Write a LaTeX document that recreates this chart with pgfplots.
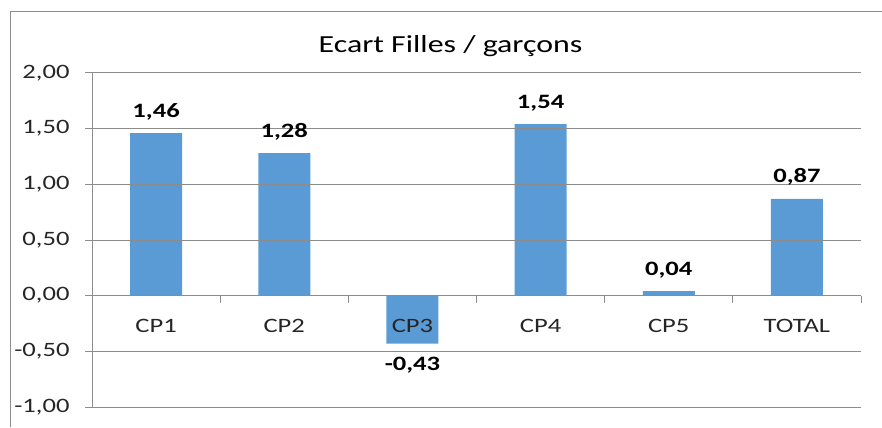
\documentclass[border=0pt]{standalone}
\usepackage{fontspec}
\setmainfont{Carlito}[FakeStretch=1.3]
\usepackage{pgfplots}
\pgfplotsset{compat=1.18}
\definecolor{barc}{HTML}{5B9BD5}
\definecolor{gridc}{HTML}{8C8C8C}
\begin{document}
\begin{tikzpicture}[x=1bp,y=1bp]
\useasboundingbox (0,0) rectangle (882,427);
\draw[gridc, line width=1bp] (10,0) -- (10,415) -- (882,415);
\begin{axis}[
  axis on top,
  at={(92bp,20bp)}, anchor=south west,
  scale only axis, width=769bp, height=334bp,
  xmin=-0.5, xmax=5.5, ymin=-1, ymax=2,
  axis y line=left, axis x line=middle,
  hide obscured x ticks=false,
  axis line style={-, gridc, line width=1bp},
  ytick={-1,-0.5,0,0.5,1,1.5,2},
  yticklabels={{-1,00},{-0,50},{0,00},{0,50},{1,00},{1,50},{2,00}},
  ymajorgrids, grid style={gridc, line width=1bp},
  ytick style={gridc, line width=1bp},
  xtick style={gridc, line width=1bp},
  x tick label as interval,
  xtick={-0.5,0.5,1.5,2.5,3.5,4.5,5.5},
  xticklabels={CP1,CP2,CP3,CP4,CP5,TOTAL},
  xtick align=outside, ytick align=outside,
  major tick length=7bp,
  tick label style={font=\fontsize{20.5}{24}\selectfont, text=black!85},
  y tick label style={xshift=-12bp},
  x tick label style={anchor=north, yshift=-13bp},
  title={Ecart Filles / garçons},
  title style={font=\fontsize{24.6}{28}\selectfont, at={(0.5,1)}, anchor=center, yshift=21bp, xshift=-26bp},
  ybar, bar width=52bp,
  nodes near coords={\pgfmathprintnumber[fixed,fixed zerofill,precision=2,use comma,assume math mode=true]{\pgfplotspointmeta}},
  nodes near coords align={vertical},
  every node near coord/.append style={font=\bfseries\fontsize{20.5}{24}\selectfont, text=black, inner ysep=13bp},
  clip=false,
]
\addplot[fill=barc, draw=none] coordinates {(0,1.46) (1,1.28) (2,-0.43) (3,1.54) (4,0.04) (5,0.87)};
\end{axis}
\end{tikzpicture}
\end{document}
